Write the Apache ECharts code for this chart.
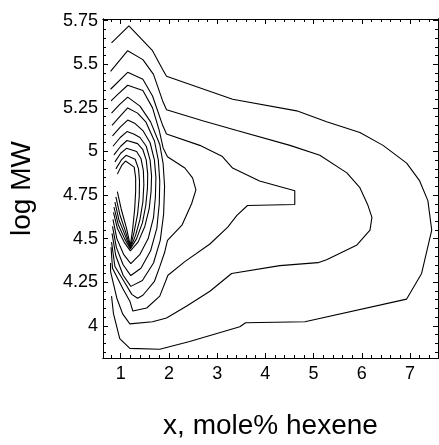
<!DOCTYPE html>
<html><head><meta charset="utf-8">
<script src="https://cdn.jsdelivr.net/npm/echarts@6/dist/echarts.min.js"></script>
<style>html,body{margin:0;padding:0;background:#fff}#c{width:439px;height:445px}</style>
</head><body><div id="c"></div>
<script>
// ---- axis values ----
const xTickLabels = [1, 2, 3, 4, 5, 6, 7];
const xMinorTicks = [0.8, 1, 1.2, 1.4, 1.6, 1.8, 2, 2.2, 2.4, 2.6, 2.8, 3, 3.2, 3.4, 3.6, 3.8, 4, 4.2, 4.4, 4.6, 4.8, 5, 5.2, 5.4, 5.6, 5.8, 6, 6.2, 6.4, 6.6, 6.8, 7, 7.2, 7.4];
const yTickLabels = [4, 4.25, 4.5, 4.75, 5, 5.25, 5.5, 5.75];
const yMinorTicks = [3.85, 3.9, 3.95, 4, 4.05, 4.1, 4.15, 4.2, 4.25, 4.3, 4.35, 4.4, 4.45, 4.5, 4.55, 4.6, 4.65, 4.7, 4.75, 4.8, 4.85, 4.9, 4.95, 5, 5.05, 5.1, 5.15, 5.2, 5.25, 5.3, 5.35, 5.4, 5.45, 5.5, 5.55, 5.6, 5.65, 5.7, 5.75];

// ---- contour lines (x, log MW), outermost first ----
const contour1 = [[0.81,4.17],[0.85,4.07],[0.98,3.926],[1.19,3.87],[1.81,3.865],[2.43,3.91],[3.47,3.994],[3.59,4.017],[4.82,4.023],[6.93,4.153],[7.24,4.30],[7.45,4.549],[7.37,4.718],[7.20,4.831],[6.93,4.933],[6.44,5.035],[5.96,5.109],[5.27,5.171],[4.65,5.233],[3.32,5.30],[1.95,5.431],[1.87,5.47],[1.66,5.578],[1.17,5.72],[0.81,5.623]];
const contour2 = [[0.79,4.36],[0.79,4.31],[0.92,4.158],[1.04,4.068],[1.19,4.011],[1.66,4.023],[1.95,4.045],[2.37,4.113],[2.85,4.198],[3.30,4.30],[4.30,4.345],[5.09,4.362],[5.27,4.379],[5.90,4.464],[6.17,4.549],[6.21,4.622],[6.12,4.696],[5.96,4.792],[5.69,4.877],[5.13,4.978],[4.51,5.035],[3.41,5.12],[2.70,5.176],[1.95,5.239],[1.87,5.29],[1.68,5.442],[1.46,5.527],[1.145,5.578],[0.79,5.46]];
const contour3 = [[0.80,4.45],[0.83,4.33],[1.04,4.215],[1.19,4.141],[1.25,4.085],[1.54,4.102],[1.81,4.17],[1.98,4.29],[2.33,4.368],[2.85,4.469],[3.22,4.566],[3.41,4.633],[3.63,4.69],[4.61,4.696],[4.61,4.775],[3.88,4.831],[3.32,4.905],[3.10,4.973],[2.64,5.035],[1.95,5.10],[1.87,5.15],[1.66,5.318],[1.46,5.414],[1.145,5.454],[0.79,5.357]];
const contour4 = [[0.81,4.48],[0.88,4.34],[1.08,4.25],[1.23,4.18],[1.35,4.158],[1.46,4.175],[1.70,4.255],[1.81,4.339],[1.91,4.42],[1.97,4.49],[2.27,4.577],[2.47,4.70],[2.56,4.78],[2.49,4.848],[2.33,4.905],[1.97,4.97],[1.88,5.02],[1.80,5.12],[1.66,5.25],[1.46,5.35],[1.145,5.38],[0.95,5.33],[0.80,5.29]];
const contour5 = [[0.82,4.53],[0.90,4.40],[1.05,4.29],[1.21,4.226],[1.45,4.26],[1.68,4.36],[1.82,4.49],[1.89,4.64],[1.91,4.80],[1.88,4.93],[1.81,5.04],[1.62,5.17],[1.40,5.26],[1.145,5.312],[0.98,5.27],[0.81,5.22]];
const contour6 = [[0.83,4.57],[0.91,4.45],[1.05,4.35],[1.21,4.288],[1.42,4.33],[1.62,4.43],[1.75,4.56],[1.80,4.70],[1.81,4.83],[1.78,4.95],[1.70,5.06],[1.52,5.17],[1.35,5.22],[1.145,5.25],[0.98,5.20],[0.82,5.15]];
const contour7 = [[0.84,4.61],[0.92,4.50],[1.06,4.41],[1.21,4.356],[1.40,4.41],[1.57,4.50],[1.68,4.62],[1.72,4.74],[1.73,4.85],[1.70,4.95],[1.61,5.05],[1.46,5.12],[1.30,5.16],[1.145,5.18],[0.99,5.14],[0.83,5.09]];
const contour8 = [[0.85,4.65],[0.93,4.56],[1.07,4.48],[1.20,4.43],[1.36,4.48],[1.50,4.57],[1.59,4.67],[1.63,4.77],[1.64,4.86],[1.61,4.95],[1.53,5.03],[1.40,5.08],[1.27,5.10],[1.13,5.114],[0.99,5.08],[0.84,5.03]];
const contour9 = [[0.86,4.68],[0.95,4.58],[1.08,4.50],[1.20,4.44],[1.33,4.50],[1.45,4.59],[1.52,4.69],[1.555,4.79],[1.56,4.87],[1.53,4.95],[1.46,5.01],[1.35,5.045],[1.13,5.063],[1.00,5.03],[0.86,4.98]];
const contour10 = [[0.88,4.71],[0.96,4.61],[1.09,4.52],[1.20,4.445],[1.31,4.52],[1.40,4.61],[1.46,4.71],[1.48,4.81],[1.47,4.89],[1.42,4.96],[1.33,5.00],[1.12,5.018],[1.00,4.99],[0.88,4.94]];
const contour11 = [[0.90,4.74],[0.98,4.64],[1.10,4.54],[1.20,4.45],[1.28,4.54],[1.35,4.64],[1.385,4.74],[1.39,4.83],[1.37,4.90],[1.30,4.955],[1.11,4.978],[1.01,4.95],[0.90,4.90]];
const contour12 = [[0.93,4.77],[1.01,4.67],[1.12,4.56],[1.20,4.458],[1.25,4.56],[1.29,4.67],[1.31,4.77],[1.31,4.85],[1.28,4.91],[1.10,4.945],[1.02,4.92],[0.93,4.87]];
const contours = [contour1, contour2, contour3, contour4, contour5, contour6, contour7, contour8, contour9, contour10, contour11, contour12];

const XMIN = 0.633, XMAX = 7.58, YMIN = 3.815, YMAX = 5.76;
const FONT = 'Liberation Sans, Arial, Helvetica, sans-serif';
const black = '#000';

function xAx(pos, ticks, len, labels, name) {
  return {
    type: 'value', position: pos, min: XMIN, max: XMAX,
    axisLine: { show: true, onZero: false, lineStyle: { color: black, width: 1 } },
    axisTick: { show: true, inside: true, length: len, customValues: ticks, lineStyle: { color: black, width: 1 } },
    axisLabel: { show: labels, customValues: ticks, margin: 7, color: black, fontSize: 18, fontFamily: FONT },
    splitLine: { show: false },
    name: name || '', nameLocation: 'middle', nameGap: 54,
    nameTextStyle: { color: black, fontSize: 28, fontFamily: FONT }
  };
}
function yAx(pos, ticks, len, labels, name) {
  return {
    type: 'value', position: pos, min: YMIN, max: YMAX,
    axisLine: { show: true, onZero: false, lineStyle: { color: black, width: 1 } },
    axisTick: { show: true, inside: true, length: len, customValues: ticks, lineStyle: { color: black, width: 1 } },
    axisLabel: { show: labels, customValues: ticks, margin: 5, color: black, fontSize: 18, fontFamily: FONT },
    splitLine: { show: false },
    name: name || '', nameLocation: 'middle', nameGap: 67,
    nameTextStyle: { color: black, fontSize: 28, fontFamily: FONT }
  };
}

const chart = echarts.init(document.getElementById('c'), null, { renderer: 'canvas' });
chart.setOption({
  animation: false,
  backgroundColor: '#fff',
  grid: { left: 103, right: 1, top: 19, bottom: 82, containLabel: false },
  xAxis: [
    xAx('bottom', xTickLabels, 5, true, 'x, mole% hexene'),
    xAx('bottom', xMinorTicks, 3, false),
    xAx('top', xTickLabels, 5, false),
    xAx('top', xMinorTicks, 3, false)
  ],
  yAxis: [
    yAx('left', yTickLabels, 5, true, 'log MW'),
    yAx('left', yMinorTicks, 3, false),
    yAx('right', yTickLabels, 5, false),
    yAx('right', yMinorTicks, 3, false)
  ],
  series: contours.map(function (c, i) {
    return {
      type: 'line', name: 'contour' + (i + 1), data: c,
      xAxisIndex: 0, yAxisIndex: 0,
      showSymbol: false, symbol: 'none', silent: true,
      lineStyle: { color: black, width: 1.1 }
    };
  })
});
</script></body></html>
